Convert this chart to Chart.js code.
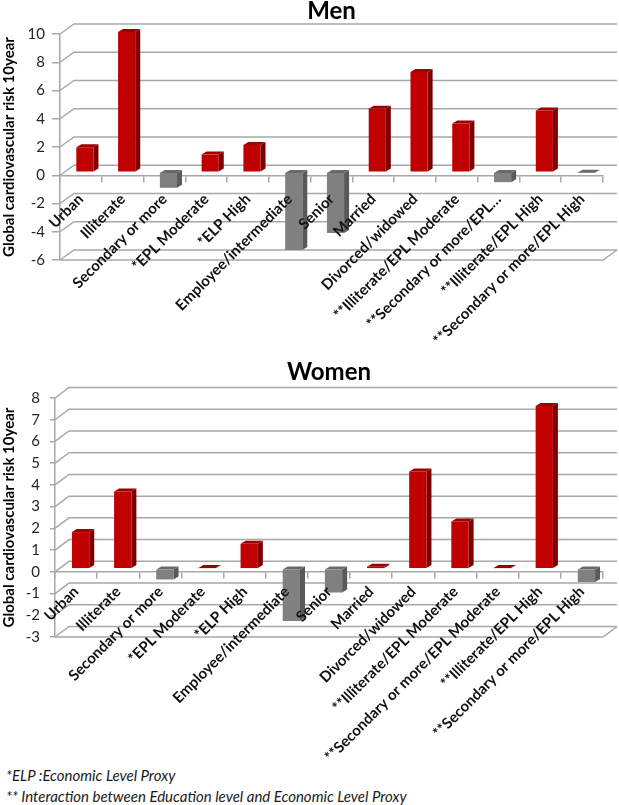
<!DOCTYPE html>
<html>
<head>
<meta charset="utf-8">
<script src="https://cdn.jsdelivr.net/npm/chart.js@4"></script>
<style>
html,body{margin:0;padding:0;background:#fff;width:619px;height:805px;overflow:hidden}
canvas{position:absolute;left:0}
.note{position:absolute;left:6px;font:italic 15px Lato,sans-serif;color:#1a1a1a;white-space:nowrap}
</style>
</head>
<body>
<canvas id="men" width="619" height="345" style="top:0"></canvas>
<canvas id="women" width="619" height="420" style="top:345px"></canvas>
<div class="note" style="top:766px">*ELP :Economic Level Proxy</div>
<div class="note" style="top:787px">** Interaction between Education level and Economic Level Proxy</div>
<script>
const menCategories = ["Urban","Illiterate","Secondary or more","*EPL Moderate","*ELP High","Employee/intermediate","Senior","Married","Divorced/widowed","**Illiterate/EPL Moderate","**Secondary or more/EPL…","**Illiterate/EPL High","**Secondary or more/EPL High"];
const womenCategories = ["Urban","Illiterate","Secondary or more","*EPL Moderate","*ELP High","Employee/intermediate","Senior","Married","Divorced/widowed","**Illiterate/EPL Moderate","**Secondary or more/EPL Moderate","**Illiterate/EPL High","**Secondary or more/EPL High"];
const menValues = [1.77,9.93,-1.1,1.25,1.93,-5.5,-4.3,4.5,7.1,3.45,-0.7,4.37,-0.03];
const womenValues = [1.69,3.56,-0.49,0.03,1.15,-2.4,-1.09,0.1,4.48,2.18,0.03,7.49,-0.61];
const yAxisTitle = "Global cardiovascular risk 10year";

const GRID = "#a8a8a8";
const prism = {
  id: "prism",
  beforeDatasetsDraw(chart) {
    const {ctx, chartArea: a, scales: {y}} = chart;
    const d = chart.options.plugins.prism;
    ctx.save();
    ctx.strokeStyle = GRID;
    ctx.lineWidth = 1.5;
    y.ticks.forEach(t => {
      const py = y.getPixelForValue(t.value);
      ctx.beginPath();
      ctx.moveTo(a.left, py);
      ctx.lineTo(a.left + d.wallX, py - d.wallY);
      ctx.lineTo(a.right + d.wallX, py - d.wallY);
      ctx.stroke();
    });
    ctx.beginPath();
    ctx.moveTo(a.left, a.bottom);
    ctx.lineTo(a.right, a.bottom);
    ctx.lineTo(a.right + d.wallX, a.bottom - d.wallY);
    ctx.stroke();
    ctx.restore();
  },
  beforeDatasetDraw(chart, args) {
    const {ctx} = chart;
    const d = chart.options.plugins.prism;
    ctx.save();
    ctx.translate(d.barX, d.barY);
    args.meta.data.forEach((bar, i) => {
      const v = chart.data.datasets[args.index].data[i];
      const l = bar.x - bar.width / 2, r = bar.x + bar.width / 2;
      const top = Math.min(bar.y, bar.base), bot = Math.max(bar.y, bar.base);
      ctx.fillStyle = v < 0 ? "#595959" : "#7d0000";
      ctx.beginPath();
      ctx.moveTo(r, top); ctx.lineTo(r + 5, top - 3); ctx.lineTo(r + 5, bot - 3); ctx.lineTo(r, bot);
      ctx.closePath(); ctx.fill();
      ctx.fillStyle = v < 0 ? "#6a6a6a" : "#9c0000";
      ctx.beginPath();
      ctx.moveTo(l, top); ctx.lineTo(l + 5, top - 3); ctx.lineTo(r + 5, top - 3); ctx.lineTo(r, top);
      ctx.closePath(); ctx.fill();
    });
  },
  afterDatasetDraw(chart) { chart.ctx.restore(); }
};

function build(id, name, categories, values, o) {
  return new Chart(document.getElementById(id), {
    type: "bar",
    data: {
      labels: categories,
      datasets: [{
        data: values,
        backgroundColor: c => c.raw < 0 ? "#808080" : "#c00000",
        categoryPercentage: 1,
        barPercentage: 0.41,
        clip: false
      }]
    },
    options: {
      responsive: false,
      animation: false,
      events: [],
      layout: {padding: {left: 0, right: o.right, top: 0, bottom: o.bottom}},
      plugins: {
        legend: {display: false},
        tooltip: {enabled: false},
        title: {
          display: true, text: name, fullSize: false, color: "#000",
          font: {family: "Lato", size: 24, weight: "bold", lineHeight: 1},
          padding: o.titlePad
        },
        prism: {wallX: 14, wallY: o.wallY, barX: o.barX, barY: -3}
      },
      scales: {
        x: {
          position: {y: 0},
          grid: {drawOnChartArea: false, drawTicks: true, tickLength: 6, color: GRID, lineWidth: 1.5, offset: true},
          border: {color: GRID, width: 1.5},
          ticks: {
            z: 1, autoSkip: false, minRotation: 45, maxRotation: 45, padding: o.labelPad,
            color: "#111", font: {family: "Lato", size: 15, weight: "bold"}
          },
          afterFit(s) { s.height = 0; s.paddingLeft = 0; s.paddingRight = 0; }
        },
        y: {
          min: o.min, max: o.max,
          grid: {drawOnChartArea: false, drawTicks: true, tickLength: o.tick, color: GRID, lineWidth: 1.5},
          border: {color: GRID, width: 1.5},
          ticks: {stepSize: o.step, padding: o.tickPad, color: "#262626", font: {family: "Lato", size: 15}},
          title: {display: true, text: yAxisTitle, color: "#000", padding: {top: 0, bottom: 0}, font: {family: "Lato", size: 15, weight: "bold"}},
          afterFit(s) { s.width = o.left; }
        }
      }
    },
    plugins: [prism]
  });
}

build("men", "Men", menCategories, menValues, {
  left: 60, right: 16, bottom: 85, min: -6, max: 10, step: 2, tick: 8, tickPad: 7, labelPad: 9,
  wallY: 10, barX: 4, titlePad: {top: -1, bottom: 11}
});
build("women", "Women", womenCategories, womenValues, {
  left: 55, right: 16, bottom: 128, min: -3, max: 8, step: 1, tick: 5, tickPad: 10, labelPad: 5,
  wallY: 10.5, barX: 4.5, titlePad: {top: 15, bottom: 14}
});
</script>
</body>
</html>
